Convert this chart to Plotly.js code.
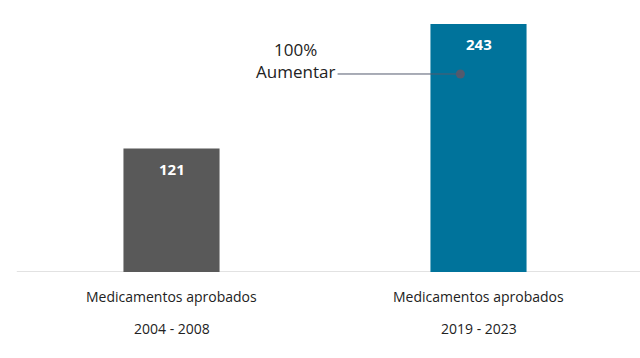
<!DOCTYPE html>
<html><head><meta charset="utf-8">
<script src="https://cdn.plot.ly/plotly-3.0.1.min.js"></script>
<style>html,body{margin:0;padding:0;background:#fff;}#chart{width:640px;height:358px;}</style>
</head><body><div id="chart"></div>
<script>
const categories = ["Medicamentos aprobados<br>2004 - 2008", "Medicamentos aprobados<br>2019 - 2023"];
const labelTop = ["Medicamentos aprobados", "Medicamentos aprobados"];
const labelBottom = ["2004 - 2008", "2019 - 2023"];
const values = [121, 243];
const barColors = ["#595959", "#00739B"];
const increaseText = "100%<br>Aumentar";

const FONT = "'Open Sans', sans-serif";
const ann = [];
categories.forEach((c, i) => {
  ann.push({x: i, y: values[i], xref: 'x', yref: 'y', text: '<b>' + values[i] + '</b>', showarrow: false,
    yshift: -20, font: {family: FONT, size: 15, color: '#ffffff'}});
  ann.push({x: i, y: 0, xref: 'x', yref: 'y', text: labelTop[i], showarrow: false,
    yshift: -24, font: {family: FONT, size: 14, color: '#222222'}});
  ann.push({x: i, y: 0, xref: 'x', yref: 'y', text: labelBottom[i], showarrow: false,
    yshift: -56, font: {family: FONT, size: 14, color: '#222222'}});
});
ann.push({x: 0.403, y: 207, xref: 'x', yref: 'y', text: increaseText, showarrow: false,
  font: {family: FONT, size: 17, color: '#222222'}, align: 'center'});

const trace = {
  type: 'bar', x: [0, 1], y: values,
  marker: {color: barColors}, width: 0.313, hoverinfo: 'skip'
};
const dot = {
  type: 'scatter', mode: 'markers', x: [0.941], y: [194],
  marker: {color: '#535a6e', size: 9}, hoverinfo: 'skip'
};

const layout = {
  width: 640, height: 358,
  margin: {l: 18, r: 8, t: 10, b: 86},
  showlegend: false,
  paper_bgcolor: '#fff', plot_bgcolor: '#fff',
  xaxis: {range: [-0.5, 1.5], showticklabels: false, showgrid: false, zeroline: false,
    showline: false, fixedrange: true},
  yaxis: {range: [0, 256.7], visible: false, showgrid: false, zeroline: false},
  shapes: [
    {type: 'line', xref: 'paper', yref: 'y', x0: -0.002, x1: 1.02, y0: 0, y1: 0,
      line: {color: '#d9d9d9', width: 1.5}, layer: 'below'},
    {type: 'line', xref: 'x', yref: 'y', x0: 0.541, x1: 0.941, y0: 194, y1: 194,
      line: {color: '#535a6e', width: 1}}
  ],
  annotations: ann
};
Plotly.newPlot('chart', [trace, dot], layout, {displayModeBar: false, staticPlot: true});
</script></body></html>
